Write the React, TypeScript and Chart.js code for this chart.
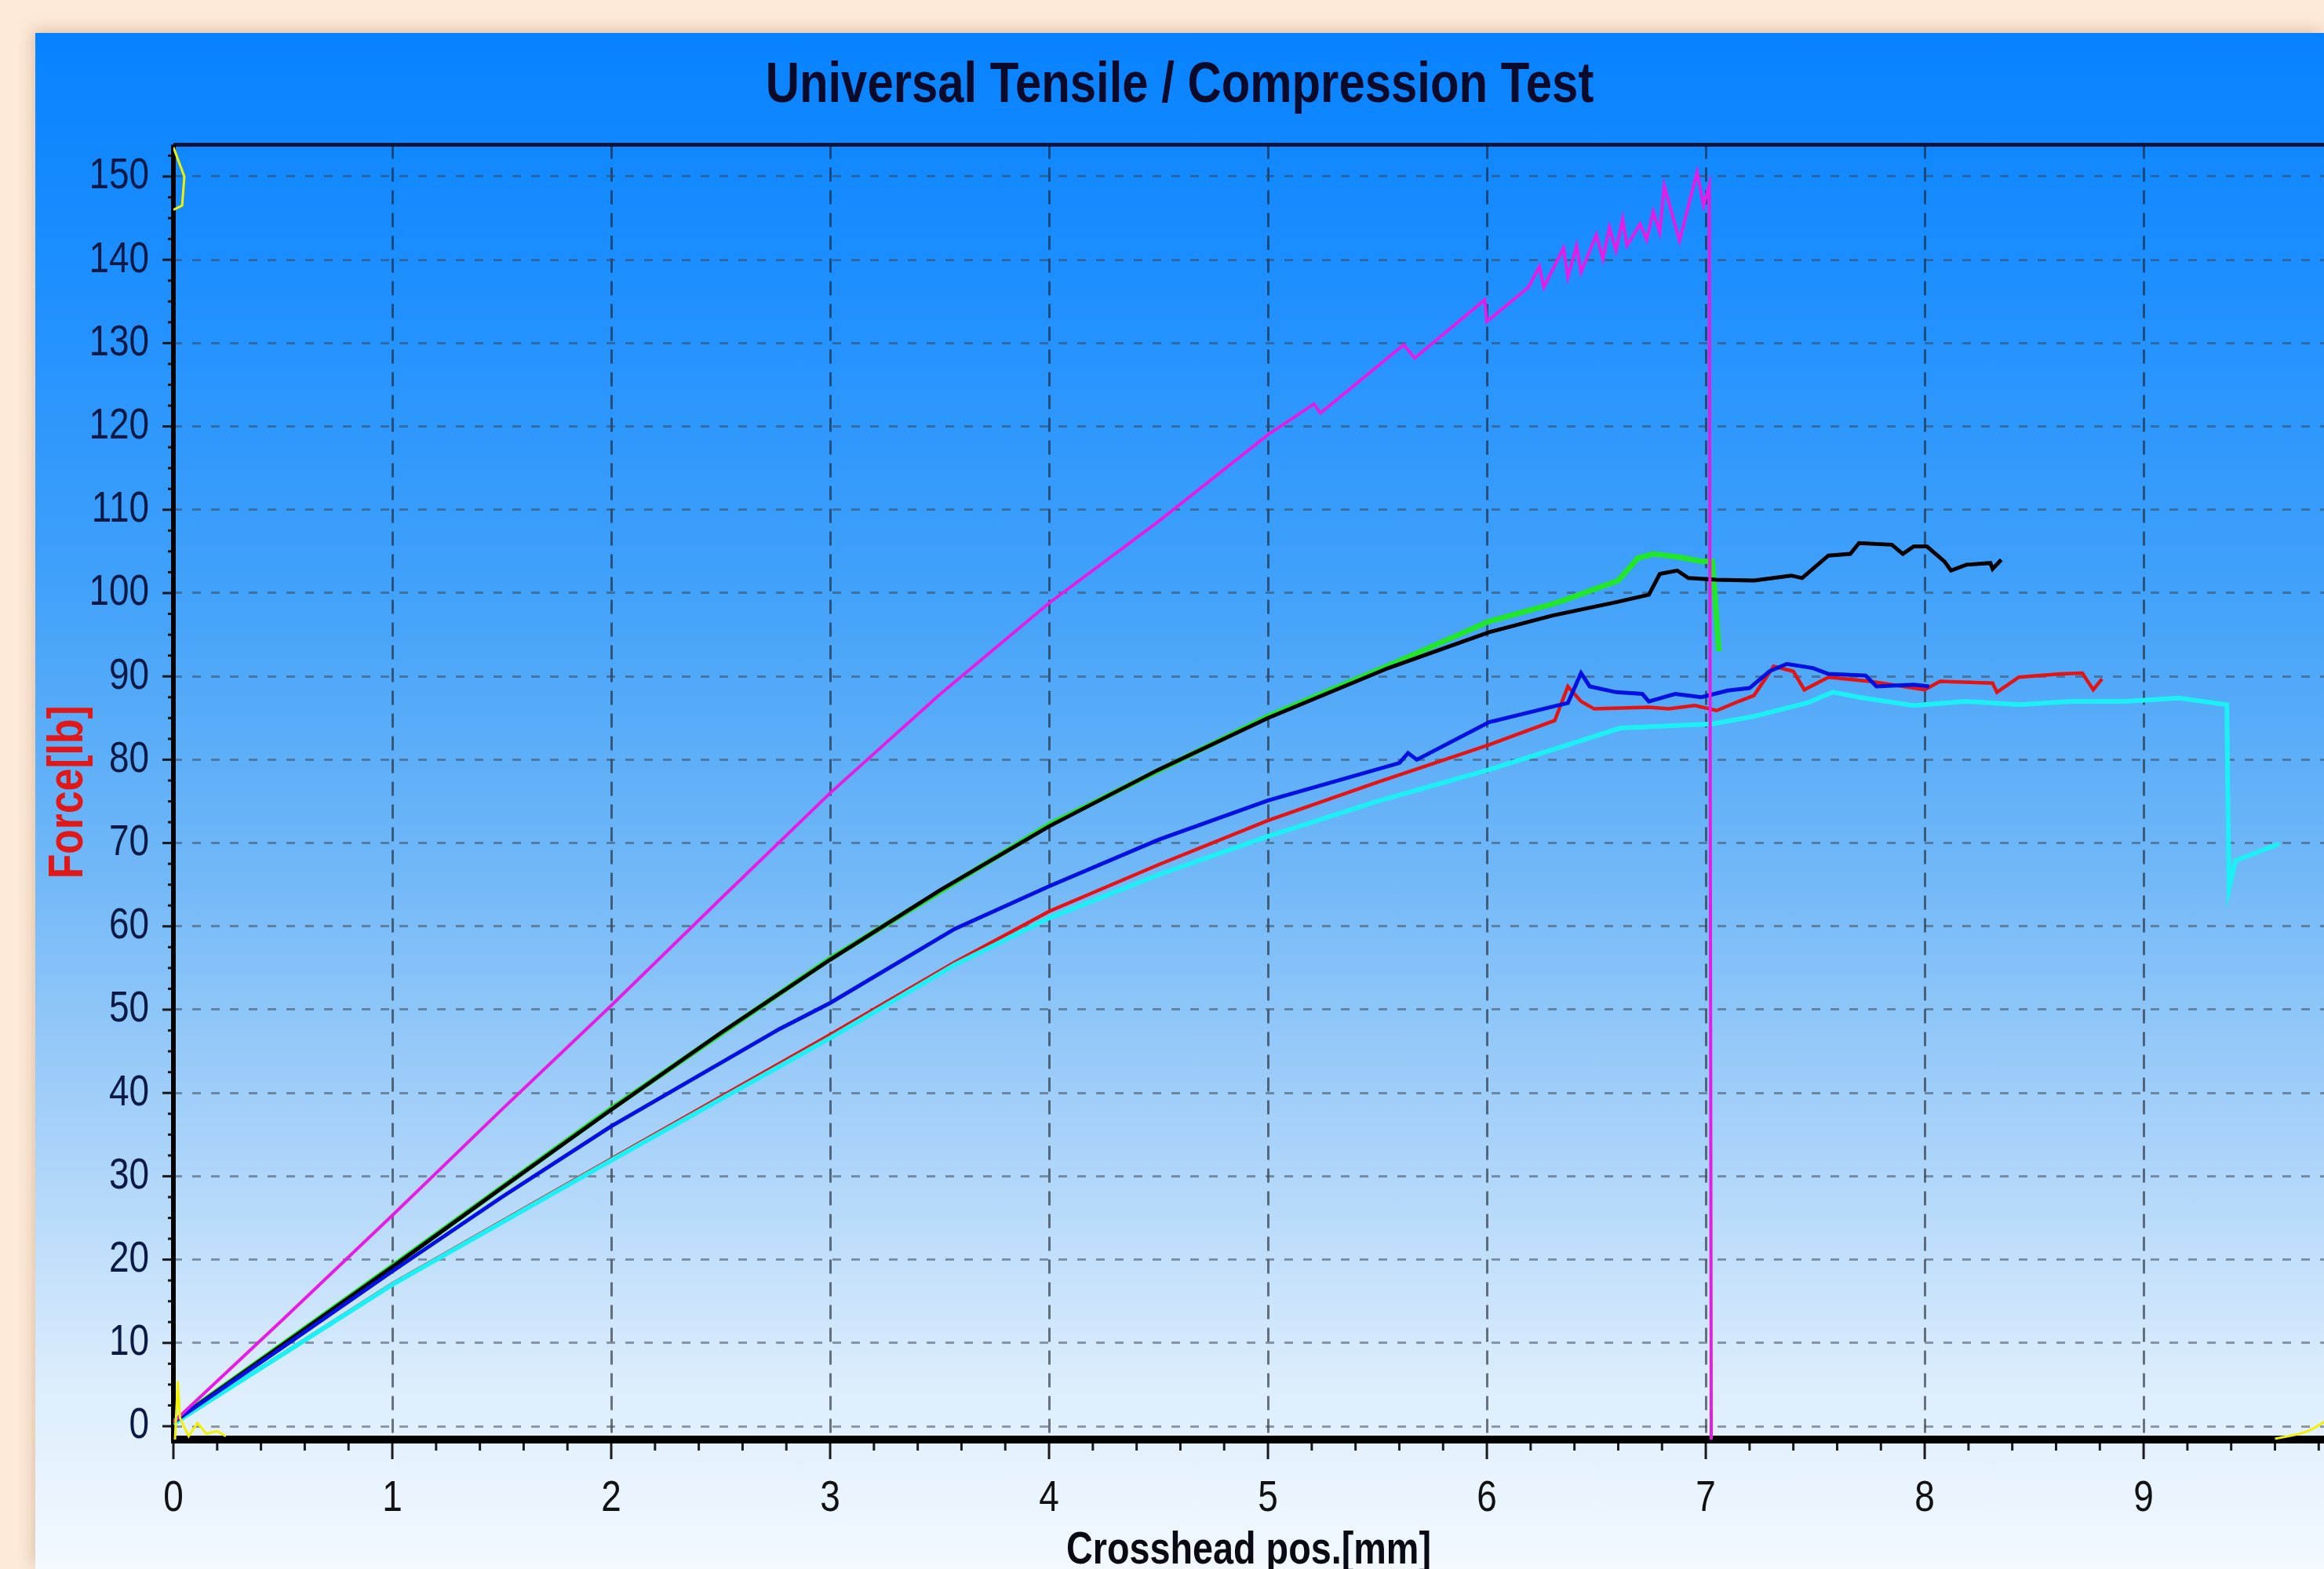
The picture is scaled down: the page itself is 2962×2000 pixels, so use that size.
import React, { useEffect, useRef } from 'react';
import { Chart, registerables } from 'chart.js';

Chart.register(...registerables);

const FONT = "'Liberation Sans', Arial, sans-serif";
const NARROW_SCALE = 0.82;

const titleText = 'Universal Tensile / Compression Test';
const xTitle = 'Crosshead pos.[mm]';
const yTitle = 'Force[lb]';

const xTickValues = [0, 1, 2, 3, 4, 5, 6, 7, 8, 9];
const yTickValues = [0, 10, 20, 30, 40, 50, 60, 70, 80, 90, 100, 110, 120, 130, 140, 150];
const xRange = [0, 9.824];
const yRange = [-1.6, 153.8];
const xMinorStep = 0.2;
const yMinorStep = 2.5;

// Magenta specimen
const magentaX = [0, 0.5, 1, 1.5, 2, 2.5, 3, 3.5, 4, 4.5, 5, 5.21, 5.24, 5.62, 5.67, 5.99, 6.0, 6.19, 6.24, 6.26, 6.35, 6.37, 6.41, 6.43, 6.5, 6.53, 6.56, 6.59, 6.62, 6.64, 6.7, 6.73, 6.76, 6.79, 6.81, 6.88, 6.96, 6.99, 7.016, 7.025];
const magentaY = [0.5, 12.8, 25.3, 38, 50.5, 63.3, 76, 87.8, 98.8, 108.6, 119, 122.7, 121.6, 129.8, 128.2, 135.2, 132.6, 136.7, 139.2, 136.7, 141.4, 137.9, 141.7, 138.5, 143.0, 140.1, 143.9, 141.1, 144.9, 141.7, 144.3, 142.4, 145.8, 143.3, 148.9, 142.3, 150.5, 146.5, 149.0, -1.6];

// Black specimen
const blackX = [0, 0.5, 1, 1.5, 2, 2.5, 3, 3.5, 4, 4.5, 5, 5.55, 6.01, 6.3, 6.59, 6.74, 6.79, 6.87, 6.92, 7.05, 7.22, 7.39, 7.44, 7.56, 7.66, 7.7, 7.85, 7.9, 7.95, 8.01, 8.09, 8.12, 8.19, 8.3, 8.31, 8.35];
const blackY = [0.5, 9.8, 19.1, 28.6, 38, 47.2, 56, 64.3, 72, 78.8, 85, 91, 95.3, 97.3, 98.9, 99.8, 102.3, 102.7, 101.8, 101.6, 101.5, 102.1, 101.8, 104.5, 104.7, 106.0, 105.8, 104.7, 105.6, 105.6, 103.8, 102.7, 103.4, 103.6, 102.9, 104.0];

// Green specimen
const greenX = [0, 1, 2, 3, 4, 5, 5.55, 6.01, 6.3, 6.37, 6.6, 6.69, 6.76, 6.88, 6.98, 7.03, 7.06];
const greenY = [0.5, 19.2, 38.1, 56.1, 72.2, 85.2, 91.3, 96.6, 98.7, 99.3, 101.5, 104.2, 104.7, 104.3, 103.8, 103.8, 93];

// Blue specimen
const blueX = [0, 0.5, 1, 1.5, 2, 2.77, 3, 3.57, 4, 4.5, 5, 5.6, 5.64, 5.68, 6.01, 6.32, 6.37, 6.43, 6.47, 6.59, 6.71, 6.74, 6.86, 6.98, 7.1, 7.2, 7.29, 7.37, 7.49, 7.56, 7.73, 7.78, 7.95, 8.02];
const blueY = [0.5, 9.5, 18.6, 27.5, 36, 47.7, 50.8, 59.7, 64.8, 70.4, 75.1, 79.6, 80.8, 80.0, 84.5, 86.5, 86.8, 90.4, 88.8, 88.1, 87.9, 87.0, 87.9, 87.5, 88.3, 88.6, 90.6, 91.5, 91.0, 90.3, 90.1, 88.8, 89.0, 88.8];

// Red specimen
const redX = [0, 1, 2, 3, 3.57, 4, 4.5, 5, 5.5, 6.01, 6.31, 6.37, 6.43, 6.49, 6.74, 6.83, 6.95, 7.05, 7.15, 7.22, 7.31, 7.4, 7.45, 7.56, 7.75, 8.0, 8.07, 8.31, 8.33, 8.43, 8.62, 8.72, 8.77, 8.81];
const redY = [0.3, 17.1, 32.1, 47.0, 55.7, 61.8, 67.4, 72.7, 77.3, 81.8, 84.7, 88.8, 87.0, 86.1, 86.3, 86.1, 86.5, 85.9, 87.0, 87.7, 91.2, 90.6, 88.4, 89.9, 89.4, 88.4, 89.4, 89.2, 88.1, 89.9, 90.3, 90.4, 88.4, 89.7];

// Cyan specimen
const cyanX = [0, 1, 2, 3, 3.57, 4, 4.5, 5, 5.5, 6.01, 6.3, 6.61, 7.03, 7.22, 7.46, 7.58, 7.7, 7.95, 8.19, 8.43, 8.67, 8.92, 9.16, 9.38, 9.39, 9.42, 9.62];
const cyanY = [0.3, 17.0, 31.9, 46.6, 55.4, 61.0, 66.2, 70.8, 75.0, 78.8, 81.2, 83.8, 84.3, 85.2, 86.8, 88.1, 87.5, 86.5, 87.0, 86.6, 87.0, 87.0, 87.4, 86.6, 64.5, 67.9, 69.9];

// Yellow cursor marks
const cursorOriginX = [0.007, 0.02, 0.03, 0.07, 0.11, 0.15, 0.2, 0.24];
const cursorOriginY = [-1.7, 5.4, 1.0, -1.2, 0.4, -0.9, -0.6, -1.2];
const cursorTopX = [0.0, 0.05, 0.04, 0.0];
const cursorTopY = [153.5, 150, 146.5, 146];
const cursorEndX = [9.6, 9.7, 9.75, 9.78, 9.83];
const cursorEndY = [-1.5, -1.0, -0.6, -0.2, 0.6];

const zip = (xs: number[], ys: number[]) => xs.map((x, i) => ({ x, y: ys[i] }));

const line = (label: string, xs: number[], ys: number[], color: string, width: number) => ({
  label,
  data: zip(xs, ys),
  borderColor: color,
  backgroundColor: color,
  borderWidth: width,
  pointRadius: 0,
  tension: 0,
  fill: false,
});

const framePlugin = {
  id: 'frame',
  beforeDatasetsDraw(chart: any) {
    const { ctx, chartArea: a, scales } = chart;
    const xs = scales.x;
    const ys = scales.y;
    ctx.save();
    ctx.strokeStyle = '#06163F';
    ctx.lineWidth = 5;
    ctx.beginPath();
    ctx.moveTo(a.left, a.top);
    ctx.lineTo(a.right, a.top);
    ctx.stroke();
    ctx.strokeStyle = '#1a1a1a';
    ctx.lineWidth = 3;
    for (let i = 0; i * xMinorStep <= xs.max + 1e-9; i++) {
      const px = xs.getPixelForValue(i * xMinorStep);
      const major = i % 5 === 0;
      ctx.beginPath();
      ctx.moveTo(px, a.bottom);
      ctx.lineTo(px, a.bottom + (major ? 25 : 14));
      ctx.stroke();
    }
    for (let i = 0; i * yMinorStep <= ys.max + 1e-9; i++) {
      const py = ys.getPixelForValue(i * yMinorStep);
      const major = i % 4 === 0;
      ctx.beginPath();
      ctx.moveTo(a.left, py);
      ctx.lineTo(a.left - (major ? 14 : 7), py);
      ctx.stroke();
    }
    ctx.strokeStyle = '#000';
    ctx.lineWidth = 6;
    ctx.beginPath();
    ctx.moveTo(a.left, a.top);
    ctx.lineTo(a.left, a.bottom + 5);
    ctx.stroke();
    ctx.lineWidth = 10;
    ctx.beginPath();
    ctx.moveTo(a.left - 3, a.bottom);
    ctx.lineTo(a.right, a.bottom);
    ctx.stroke();
    ctx.restore();
  },
};

// Draw all canvas text horizontally condensed (Arial Narrow look) around its anchor point.
const condenseText = (ctx: any) => {
  if (ctx.__condensed) return;
  const orig = ctx.fillText;
  ctx.fillText = function (text: string, x: number, y: number, maxWidth?: number) {
    this.save();
    this.translate(x, y);
    this.scale(NARROW_SCALE, 1);
    if (maxWidth === undefined || maxWidth === null) {
      orig.call(this, text, 0, 0);
    } else {
      orig.call(this, text, 0, 0, maxWidth / NARROW_SCALE);
    }
    this.restore();
  };
  ctx.__condensed = true;
};

export default function App() {
  const ref = useRef<HTMLCanvasElement>(null);

  useEffect(() => {
    const canvas = ref.current;
    if (!canvas) return;
    const ctx = canvas.getContext('2d');
    if (ctx) condenseText(ctx);
    const chart = new Chart(canvas, {
      type: 'line',
      data: {
        datasets: [
          line('cursor-origin', cursorOriginX, cursorOriginY, '#F2F200', 3),
          line('cursor-top', cursorTopX, cursorTopY, '#F2F200', 3),
          line('cursor-end', cursorEndX, cursorEndY, '#F2F200', 3),
          line('Magenta', magentaX, magentaY, '#E61CE6', 4),
          line('Blue', blueX, blueY, '#0010E0', 5),
          line('Black', blackX, blackY, '#000000', 5),
          line('Cyan', cyanX, cyanY, '#1CF0F4', 6),
          line('Red', redX, redY, '#E41414', 4.5),
          line('Green', greenX, greenY, '#22E62A', 7),
        ],
      },
      options: {
        responsive: false,
        devicePixelRatio: 1,
        animation: false,
        layout: { padding: { left: 0, right: 0, top: 0, bottom: 0 } },
        plugins: {
          legend: { display: false },
          tooltip: { enabled: false },
          title: {
            display: true,
            text: titleText,
            color: '#0A0A2A',
            font: { family: FONT, size: 73, weight: 'bold', lineHeight: 1.2 },
            padding: { top: 24, bottom: 31 },
          },
        },
        scales: {
          x: {
            type: 'linear',
            min: xRange[0],
            max: xRange[1],
            afterBuildTicks: (scale: any) => {
              scale.ticks = xTickValues.map((v) => ({ value: v }));
            },
            afterFit: (scale: any) => {
              scale.height = 165;
            },
            ticks: {
              color: '#111111',
              font: { family: FONT, size: 56 },
              padding: 42,
              maxRotation: 0,
              autoSkip: false,
            },
            grid: {
              color: 'rgba(25,30,40,0.6)',
              lineWidth: 3,
              drawTicks: false,
            },
            border: { display: false, dash: [18, 11] },
            title: {
              display: true,
              text: xTitle,
              color: '#0A0A14',
              font: { family: FONT, size: 57, weight: 'bold', lineHeight: 0.8 },
              padding: { top: 0, bottom: 0 },
            },
          },
          y: {
            type: 'linear',
            min: yRange[0],
            max: yRange[1],
            afterBuildTicks: (scale: any) => {
              scale.ticks = yTickValues.map((v) => ({ value: v }));
            },
            afterFit: (scale: any) => {
              scale.width = 176;
            },
            ticks: {
              color: '#0B1A45',
              font: { family: FONT, size: 56 },
              padding: 31,
              autoSkip: false,
            },
            grid: {
              color: 'rgba(55,65,80,0.5)',
              lineWidth: 3,
              drawTicks: false,
            },
            border: { display: false, dash: [11, 13] },
            title: {
              display: true,
              text: yTitle,
              color: '#E01818',
              font: { family: FONT, size: 63, weight: 'bold', lineHeight: 1.2 },
              padding: { top: 5, bottom: 0 },
            },
          },
        },
      },
      plugins: [framePlugin],
    } as any);
    return () => chart.destroy();
  }, []);

  return (
    <div
      style={{
        position: 'absolute',
        left: 0,
        top: 0,
        width: 2962,
        height: 2000,
        background: '#FDEAD9',
        overflow: 'hidden',
      }}
    >
      <div
        style={{
          position: 'absolute',
          left: 45,
          top: 42,
          width: 2917,
          height: 1958,
          background:
            'linear-gradient(to bottom, #0782FF 0%, #1C8EFF 15%, #3FA0FA 35%, #72B8F7 55%, #A8D2F9 72%, #DCEDFC 88%, #F3F9FF 100%)',
          boxShadow: '-4px -4px 18px rgba(170,120,80,0.35)',
        }}
      >
        <canvas ref={ref} width={2917} height={1958} style={{ display: 'block', width: 2917, height: 1958 }} />
      </div>
    </div>
  );
}
